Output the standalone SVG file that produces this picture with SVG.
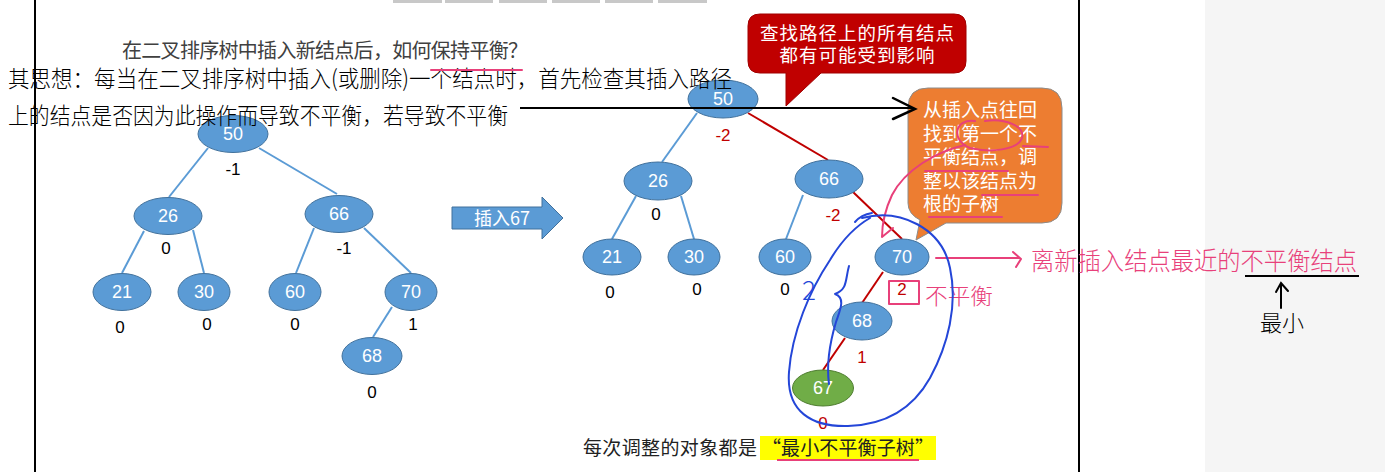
<svg xmlns="http://www.w3.org/2000/svg" width="1385" height="472" viewBox="0 0 1385 472">
<style>
.nd{fill:#5b9bd5;stroke:#41719c;stroke-width:1}
.gn{fill:#70ad47;stroke:#507e32;stroke-width:1}
.nt{font-family:"Liberation Sans",Arial,sans-serif;font-size:18px;fill:#ffffff;text-anchor:middle}
.bf{font-family:"Liberation Sans",Arial,sans-serif;font-size:17px;fill:#000000;text-anchor:middle}
.bfr{font-family:"Liberation Sans",Arial,sans-serif;font-size:17px;fill:#c00000;text-anchor:middle}
.be{stroke:#5b9bd5;stroke-width:2;fill:none}
.re{stroke:#c00000;stroke-width:2;fill:none}
.cjk{font-family:"Noto Sans CJK SC","Noto Sans",sans-serif}
.pk{stroke:#e8407a;stroke-width:2;fill:none;stroke-linecap:round;stroke-linejoin:round}
.bl{stroke:#2446d8;stroke-width:2;fill:none;stroke-linecap:round;stroke-linejoin:round}
.hw{font-family:"Noto Sans CJK SC",sans-serif;font-weight:300}
</style>
<rect x="0" y="0" width="1385" height="472" fill="#ffffff"/>
<rect x="1205" y="0" width="180" height="472" fill="#f5f5f5"/>
<g id="tabs" fill="#c8c8c8">
<rect x="393" y="0" width="49" height="3"/><rect x="445" y="0" width="48" height="3"/><rect x="499" y="0" width="48" height="3"/><rect x="552" y="0" width="48" height="3"/><rect x="605" y="0" width="48" height="3"/><rect x="658" y="0" width="49" height="3"/>
</g>
<line x1="35" y1="0" x2="35" y2="472" stroke="#000" stroke-width="2"/>
<line x1="1079" y1="0" x2="1079" y2="472" stroke="#000" stroke-width="2"/>

<text id="title" class="cjk" x="122" y="58" font-size="20" fill="#404040" textLength="406">在二叉排序树中插入新结点后，如何保持平衡？</text>

<g id="connectors">
<line class="be" x1="208" y1="148" x2="169" y2="197"/>
<line class="be" x1="259" y1="148" x2="337" y2="194"/>
<line class="be" x1="144" y1="231" x2="122" y2="273"/>
<line class="be" x1="193" y1="230" x2="204" y2="273"/>
<line class="be" x1="314" y1="228" x2="296" y2="273"/>
<line class="be" x1="364" y1="228" x2="411" y2="273"/>
<line class="be" x1="392" y1="307" x2="373" y2="337"/>
<line class="be" x1="697" y1="113" x2="662" y2="162"/>
<line class="be" x1="636" y1="196" x2="612" y2="239"/>
<line class="be" x1="681" y1="196" x2="694" y2="239"/>
<line class="be" x1="803" y1="195" x2="786" y2="239"/>
<line class="re" x1="748" y1="113" x2="828" y2="160"/>
<line class="re" x1="853" y1="192" x2="902" y2="239"/>
<line class="re" x1="883" y1="272" x2="862" y2="303"/>
<line class="re" x1="845" y1="338" x2="823" y2="370"/>
</g>

<g id="n50a"><ellipse class="nd" cx="233" cy="134" rx="35" ry="18.5"/><text class="nt" x="233" y="140">50</text><text class="bf" x="233" y="175">-1</text></g>
<g id="n26a"><ellipse class="nd" cx="168" cy="216" rx="34" ry="18.5"/><text class="nt" x="168" y="222">26</text><text class="bf" x="166" y="254">0</text></g>
<g id="n66a"><ellipse class="nd" cx="339" cy="214" rx="34" ry="18.5"/><text class="nt" x="339" y="220">66</text><text class="bf" x="344" y="254">-1</text></g>
<g id="n21a"><ellipse class="nd" cx="122" cy="292" rx="29" ry="18.5"/><text class="nt" x="122" y="298">21</text><text class="bf" x="120" y="333">0</text></g>
<g id="n30a"><ellipse class="nd" cx="204" cy="292" rx="26" ry="18.5"/><text class="nt" x="204" y="298">30</text><text class="bf" x="207" y="330">0</text></g>
<g id="n60a"><ellipse class="nd" cx="295" cy="292" rx="26" ry="18.5"/><text class="nt" x="295" y="298">60</text><text class="bf" x="295" y="330">0</text></g>
<g id="n70a"><ellipse class="nd" cx="411" cy="292" rx="26" ry="18.5"/><text class="nt" x="411" y="298">70</text><text class="bf" x="413" y="330">1</text></g>
<g id="n68a"><ellipse class="nd" cx="372" cy="356" rx="30" ry="18.5"/><text class="nt" x="372" y="362">68</text><text class="bf" x="372" y="398">0</text></g>

<g id="insert-arrow">
<path d="M452 207 H542 V197 L563 218 L542 239 V229 H452 Z" fill="#5b9bd5" stroke="#41719c" stroke-width="1"/>
<text class="cjk" x="502" y="225" font-size="18" fill="#ffffff" text-anchor="middle">插入67</text>
</g>

<g id="n50b"><ellipse class="nd" cx="723" cy="99" rx="35" ry="19"/><text class="nt" x="723" y="105">50</text><text class="bfr" x="723" y="141">-2</text></g>
<g id="n26b"><ellipse class="nd" cx="658" cy="181" rx="34" ry="19"/><text class="nt" x="658" y="187">26</text><text class="bf" x="656" y="220">0</text></g>
<g id="n66b"><ellipse class="nd" cx="829" cy="179" rx="34" ry="19"/><text class="nt" x="829" y="185">66</text><text class="bfr" x="833" y="221">-2</text></g>
<g id="n21b"><ellipse class="nd" cx="612" cy="257" rx="29" ry="18"/><text class="nt" x="612" y="263">21</text><text class="bf" x="610" y="298">0</text></g>
<g id="n30b"><ellipse class="nd" cx="694" cy="257" rx="26" ry="18"/><text class="nt" x="694" y="263">30</text><text class="bf" x="697" y="295">0</text></g>
<g id="n60b"><ellipse class="nd" cx="785" cy="257" rx="26" ry="18"/><text class="nt" x="785" y="263">60</text><text class="bf" x="785" y="295">0</text></g>
<g id="n70b"><ellipse class="nd" cx="902" cy="257" rx="27" ry="18"/><text class="nt" x="902" y="263">70</text><text class="bfr" x="902" y="295">2</text></g>
<g id="n68b"><ellipse class="nd" cx="862" cy="321" rx="30" ry="19"/><text class="nt" x="862" y="327">68</text><text class="bfr" x="862" y="363">1</text></g>
<g id="n67b"><ellipse class="gn" cx="823" cy="388" rx="30.5" ry="18"/><text class="nt" x="823" y="394">67</text><text class="bfr" x="823" y="429">0</text></g>

<g id="callout-red">
<path d="M760 14 H954 Q966 14 966 26 V61 Q966 73 954 73 H821 L786 106 L786 73 H760 Q748 73 748 61 V26 Q748 14 760 14 Z" fill="#c00000" stroke="#a00000" stroke-width="1"/>
<text class="cjk" x="857" y="40" font-size="18.5" fill="#ffffff" text-anchor="middle" textLength="194">查找路径上的所有结点</text>
<text class="cjk" x="857" y="62" font-size="18.5" fill="#ffffff" text-anchor="middle" textLength="155">都有可能受到影响</text>
</g>

<g id="callout-orange">
<path d="M928 88 H1042 Q1062 88 1062 108 V203 Q1062 223 1042 223 H946 L916 240 L920 220 Q908 214 908 203 V108 Q908 88 928 88 Z" fill="#ed7d31" stroke="#8c8c8c" stroke-width="1"/>
<g class="cjk" font-size="19" fill="#ffffff">
<text x="923" y="117">从插入点往回</text>
<text x="923" y="141">找到第一个不</text>
<text x="923" y="164">平衡结点，调</text>
<text x="923" y="188">整以该结点为</text>
<text x="923" y="211">根的子树</text>
</g>
</g>

<g id="bottom-note">
<text class="cjk" x="583" y="455" font-size="19" fill="#222" textLength="174">每次调整的对象都是</text>
<rect x="760" y="436" width="176" height="24" fill="#ffff00"/>
<text class="cjk" x="762" y="455" font-size="19" fill="#222" textLength="172">“最小不平衡子树”</text>
<line x1="777" y1="460" x2="919" y2="460" stroke="#e8407a" stroke-width="2"/>
</g>

<g id="handwriting">
<text class="hw" x="8" y="87" font-size="23" fill="#000" textLength="724" lengthAdjust="spacingAndGlyphs">其思想：每当在二叉排序树中插入(或删除)一个结点时，首先检查其插入路径</text>
<text class="hw" x="8" y="124" font-size="23" fill="#000" textLength="500" lengthAdjust="spacingAndGlyphs">上的结点是否因为此操作而导致不平衡，若导致不平衡</text>
<line x1="431" y1="70" x2="522" y2="70" class="pk"/>
<line x1="520" y1="108" x2="914" y2="108" stroke="#000" stroke-width="2"/>
<path d="M893 98 L915 109 L893 119" fill="none" stroke="#000" stroke-width="2.5" stroke-linecap="round"/>
</g>

<g id="annotations">
<path class="pk" d="M975 121 C955 118 950 140 970 148 C990 153 1018 150 1022 138 C1025 126 1005 118 985 121"/>
<path class="pk" d="M965 145 C935 152 905 170 892 195 C884 212 882 225 882 237 L893 228"/>
<line class="pk" x1="1023" y1="146" x2="1048" y2="147"/>
<line class="pk" x1="925" y1="171" x2="1008" y2="171"/>
<line class="pk" x1="982" y1="195" x2="1038" y2="195"/>
<line class="pk" x1="929" y1="217" x2="1002" y2="217"/>
<line class="pk" x1="936" y1="258" x2="1019" y2="258"/>
<path class="pk" d="M1013 252 L1021 259 L1016 267"/>
<text class="hw" x="1031" y="270" font-size="25" fill="#e8407a" textLength="326" lengthAdjust="spacingAndGlyphs">离新插入结点最近的不平衡结点</text>
<rect class="pk" x="889" y="281" width="30" height="23"/>
<text class="hw" x="925" y="304" font-size="22" fill="#e8407a" textLength="68" lengthAdjust="spacingAndGlyphs">不平衡</text>
<path class="bl" d="M862 218 C900 208 942 228 950 268 C958 305 948 345 930 378 C912 410 885 425 848 426 C812 427 786 412 789 372 C792 332 810 290 830 260 C842 240 856 226 870 218"/>
<path class="bl" d="M855 222 C860 216 866 214 872 213"/>
<text class="hw" x="802" y="300" font-size="26" fill="#2446d8">2</text>
<path class="bl" d="M849 266 C845 280 848 289 835 294 C846 298 840 310 836 322 C830 342 826 362 829 384"/>
<line x1="1245" y1="276" x2="1359" y2="276" stroke="#000" stroke-width="2"/>
<path d="M1281 308 V284 M1276 292 L1281 283 L1288 291" fill="none" stroke="#000" stroke-width="2" stroke-linecap="round"/>
<text class="hw" x="1282" y="331" font-size="22" fill="#000" text-anchor="middle">最小</text>
</g>
</svg>
